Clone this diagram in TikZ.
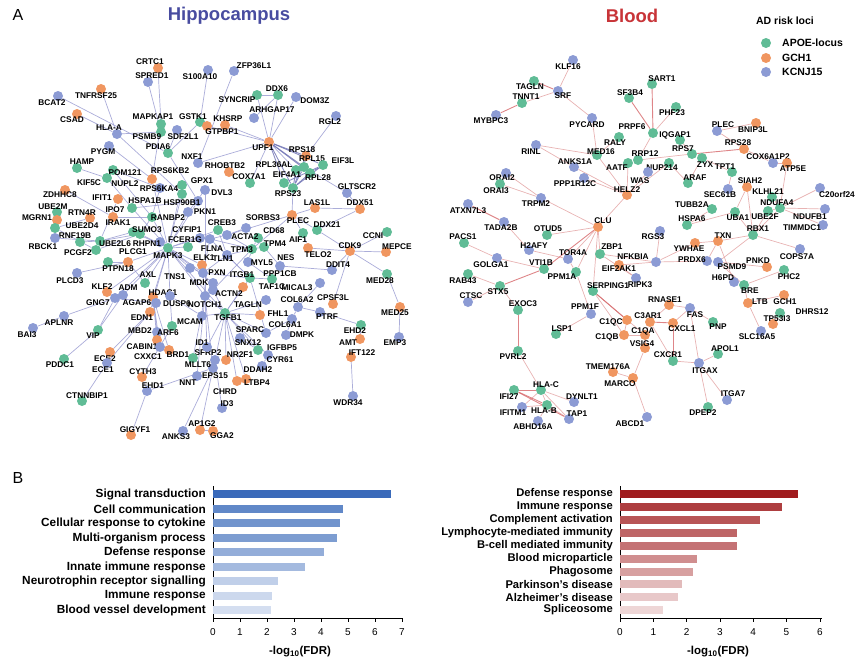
\documentclass[tikz,border=0pt]{standalone}
\usepackage{fontspec}
\setmainfont{Liberation Sans}
\usetikzlibrary{backgrounds}

\definecolor{apoe}{RGB}{96,188,150}
\definecolor{gch}{RGB}{240,150,96}
\definecolor{kcnj}{RGB}{140,155,212}
\definecolor{hipcol}{RGB}{72,76,160}
\definecolor{bldcol}{RGB}{200,52,56}
\definecolor{hedgecol}{RGB}{150,152,208}
\definecolor{bedgecol}{RGB}{226,160,160}
\definecolor{barblue}{RGB}{58,106,186}
\definecolor{barred}{RGB}{160,28,30}

\tikzset{gdot/.style={circle,fill=#1,inner sep=0pt,minimum size=10pt},
  glab/.style={font=\fontsize{8.3}{9}\selectfont\bfseries,inner sep=0pt},
  hedge/.style={draw=hedgecol,line width=0.7pt,opacity=0.8},
  hedgedk/.style={draw=hipcol!80,line width=0.9pt,opacity=0.8},
  bedge/.style={draw=bedgecol,line width=0.7pt,opacity=0.8},
  bedgedk/.style={draw=bldcol!75,line width=0.9pt,opacity=0.8},
  barlab/.style={font=\fontsize{11.8}{12}\selectfont\bfseries,anchor=east,inner sep=0pt},
  ticklab/.style={font=\fontsize{10}{11}\selectfont,inner sep=0pt},
}
% dot and its gene label
\newcommand{\gn}[5]{\node[gdot=#3] (#1#2) at (#4) {};\node[glab] (#1#2l) at (#5) {#2};}

\begin{document}
\begin{tikzpicture}[x=1pt,y=-1pt]
\useasboundingbox (0,0) rectangle (860,664);

% panel titles
\node[font=\fontsize{16}{18}\selectfont] (pa) at (18,15) {A};
\node[font=\fontsize{16}{18}\selectfont] (pb) at (18,478) {B};
\node[font=\fontsize{18.5}{20}\selectfont\bfseries,text=hipcol] (thip) at (229,16) {Hippocampus};
\node[font=\fontsize{18.5}{20}\selectfont\bfseries,text=bldcol] (tbld) at (632,16) {Blood};

% legend
\node[font=\fontsize{10.5}{12}\selectfont\bfseries] (leg) at (785,21) {AD risk loci};
\node[gdot=apoe] (lg1) at (766,43) {};
\node[gdot=gch] (lg2) at (766,58) {};
\node[gdot=kcnj] (lg3) at (766,72) {};
\node[font=\fontsize{10.5}{12}\selectfont\bfseries,anchor=west,inner sep=0pt] (lt1) at (782,43) {APOE-locus};
\node[font=\fontsize{10.5}{12}\selectfont\bfseries,anchor=west,inner sep=0pt] (lt2) at (782,58) {GCH1};
\node[font=\fontsize{10.5}{12}\selectfont\bfseries,anchor=west,inner sep=0pt] (lt3) at (782,72) {KCNJ15};

% ---- hippocampus network
\gn{h}{CRTC1}{gch}{158,68}{150,62}
\gn{h}{SPRED1}{kcnj}{148,82}{152,76}
\gn{h}{S100A10}{kcnj}{208,70}{200,77}
\gn{h}{ZFP36L1}{kcnj}{234,71}{254,66}
\gn{h}{DDX6}{apoe}{278,95}{277,89}
\gn{h}{SYNCRIP}{apoe}{257,95}{237,100}
\gn{h}{DOM3Z}{kcnj}{296,97}{315,101}
\gn{h}{ARHGAP17}{kcnj}{254,118}{272,110}
\gn{h}{RGL2}{kcnj}{336,116}{330,122}
\gn{h}{BCAT2}{kcnj}{58,96}{52,103}
\gn{h}{TNFRSF25}{gch}{101,89}{96,96}
\gn{h}{CSAD}{gch}{77,114}{72,120}
\gn{h}{HLA-A}{kcnj}{117,134}{109,128}
\gn{h}{PYGM}{kcnj}{109,146}{103,152}
\gn{h}{MAPKAP1}{apoe}{161,124}{153,117}
\gn{h}{GSTK1}{apoe}{200,122}{193,117}
\gn{h}{KHSRP}{gch}{225,125}{228,119}
\gn{h}{GTPBP1}{gch}{207,126}{222,132}
\gn{h}{PSMB9}{apoe}{161,132}{147,137}
\gn{h}{SDF2L1}{kcnj}{177,130}{183,137}
\gn{h}{PDIA6}{apoe}{168,153}{158,147}
\gn{h}{NXF1}{kcnj}{198,163}{192,157}
\gn{h}{UPF1}{gch}{269,142}{263,148}
\gn{h}{RPS18}{gch}{306,156}{302,150}
\gn{h}{RPL15}{apoe}{304,167}{312,159}
\gn{h}{EIF3L}{apoe}{323,165}{343,161}
\gn{h}{RHOBTB2}{gch}{229,172}{225,166}
\gn{h}{RPL36AL}{apoe}{296,170}{274,165}
\gn{h}{COX7A1}{apoe}{250,183}{249,177}
\gn{h}{EIF4A1}{apoe}{284,183}{287,175}
\gn{h}{RPL28}{apoe}{310,173}{318,178}
\gn{h}{RPS23}{apoe}{293,188}{288,194}
\gn{h}{GLTSCR2}{kcnj}{347,193}{357,187}
\gn{h}{LAS1L}{gch}{315,208}{317,203}
\gn{h}{DDX51}{gch}{360,209}{360,203}
\gn{h}{PLEC}{gch}{292,215}{298,221}
\gn{h}{DDX21}{apoe}{317,230}{327,225}
\gn{h}{AIF1}{apoe}{303,233}{298,240}
\gn{h}{SORBS3}{kcnj}{246,228}{263,218}
\gn{h}{CD68}{apoe}{258,238}{274,231}
\gn{h}{TPM4}{apoe}{264,247}{275,244}
\gn{h}{TPM3}{apoe}{252,249}{242,250}
\gn{h}{ACTA2}{kcnj}{227,235}{245,237}
\gn{h}{CREB3}{apoe}{218,230}{222,223}
\gn{h}{DVL3}{kcnj}{205,190}{222,193}
\gn{h}{GPX1}{apoe}{182,185}{202,181}
\gn{h}{RPS6KB2}{gch}{152,179}{170,171}
\gn{h}{POM121}{apoe}{113,170}{125,173}
\gn{h}{NUPL2}{kcnj}{160,188}{125,184}
\gn{h}{KIF5C}{apoe}{107,178}{89,183}
\gn{h}{HAMP}{apoe}{77,168}{82,162}
\gn{h}{ZDHHC8}{gch}{65,190}{60,195}
\gn{h}{IFIT1}{gch}{118,199}{102,198}
\gn{h}{RPS6KA4}{apoe}{182,194}{159,189}
\gn{h}{HSPA1B}{apoe}{132,208}{145,201}
\gn{h}{HSP90B1}{kcnj}{198,201}{182,203}
\gn{h}{UBE2M}{apoe}{57,212}{53,207}
\gn{h}{MGRN1}{gch}{57,220}{37,218}
\gn{h}{RTN4R}{gch}{90,218}{82,213}
\gn{h}{IPO7}{gch}{113,217}{115,210}
\gn{h}{UBE2D4}{apoe}{55,228}{82,226}
\gn{h}{IRAK1}{apoe}{133,232}{118,223}
\gn{h}{RANBP2}{apoe}{152,217}{168,218}
\gn{h}{PKN1}{kcnj}{188,212}{205,212}
\gn{h}{RNF19B}{apoe}{80,242}{75,236}
\gn{h}{SUMO3}{apoe}{140,234}{147,230}
\gn{h}{CYFIP1}{kcnj}{200,238}{187,230}
\gn{h}{RBCK1}{kcnj}{55,238}{43,247}
\gn{h}{UBE2L6}{apoe}{100,241}{115,244}
\gn{h}{RHPN1}{kcnj}{160,242}{147,244}
\gn{h}{FCER1G}{apoe}{188,247}{185,240}
\gn{h}{FLNA}{kcnj}{210,239}{212,249}
\gn{h}{PCGF2}{apoe}{96,250}{78,253}
\gn{h}{PLCG1}{gch}{128,262}{133,252}
\gn{h}{MAPK3}{apoe}{168,248}{168,256}
\gn{h}{ELK1}{gch}{202,265}{204,258}
\gn{h}{TNS1}{kcnj}{190,268}{175,277}
\gn{h}{PTPN18}{apoe}{108,262}{118,269}
\gn{h}{AXL}{apoe}{145,283}{148,275}
\gn{h}{PLCD3}{kcnj}{77,273}{70,281}
\gn{h}{MDK}{kcnj}{213,283}{199,283}
\gn{h}{KLF2}{gch}{107,292}{102,287}
\gn{h}{ADM}{kcnj}{123,295}{128,288}
\gn{h}{HDAC1}{gch}{153,297}{163,293}
\gn{h}{GNG7}{kcnj}{115,298}{98,303}
\gn{h}{AGAP6}{kcnj}{156,303}{137,303}
\gn{h}{DUSP6}{kcnj}{170,296}{177,304}
\gn{h}{NOTCH1}{kcnj}{205,296}{205,305}
\gn{h}{PXN}{kcnj}{203,273}{217,273}
\gn{h}{TLN1}{kcnj}{227,255}{223,259}
\gn{h}{ITGB1}{apoe}{250,278}{242,275}
\gn{h}{MYL5}{kcnj}{248,262}{262,263}
\gn{h}{NES}{kcnj}{280,266}{286,258}
\gn{h}{PPP1CB}{apoe}{272,279}{280,274}
\gn{h}{TAF1C}{gch}{243,287}{272,287}
\gn{h}{MICAL3}{kcnj}{320,283}{297,288}
\gn{h}{ACTN2}{kcnj}{213,290}{229,294}
\gn{h}{COL6A2}{kcnj}{298,307}{297,300}
\gn{h}{CPSF3L}{gch}{333,304}{333,298}
\gn{h}{TAGLN}{kcnj}{266,300}{248,305}
\gn{h}{TELO2}{gch}{308,248}{318,255}
\gn{h}{CCNI}{apoe}{387,232}{373,236}
\gn{h}{CDK9}{gch}{350,251}{350,246}
\gn{h}{MEPCE}{gch}{386,252}{397,247}
\gn{h}{DDIT4}{kcnj}{332,270}{338,265}
\gn{h}{MED28}{apoe}{387,274}{380,281}
\gn{h}{TGFB1}{apoe}{225,313}{228,318}
\gn{h}{FHL1}{gch}{260,315}{278,314}
\gn{h}{SPARC}{kcnj}{266,333}{250,330}
\gn{h}{COL6A1}{kcnj}{292,319}{285,325}
\gn{h}{DMPK}{kcnj}{286,335}{302,335}
\gn{h}{PTRF}{kcnj}{320,312}{327,317}
\gn{h}{SNX12}{kcnj}{240,338}{248,343}
\gn{h}{IGFBP5}{apoe}{258,350}{282,348}
\gn{h}{NR2F1}{gch}{226,360}{240,355}
\gn{h}{CYR61}{kcnj}{268,355}{280,360}
\gn{h}{DDAH2}{kcnj}{262,366}{258,370}
\gn{h}{LTBP4}{gch}{246,379}{257,383}
\gn{h}{CHRD}{gch}{237,381}{225,392}
\gn{h}{ID3}{kcnj}{222,408}{227,404}
\gn{h}{EPS15}{kcnj}{213,368}{215,376}
\gn{h}{SFRP2}{kcnj}{215,360}{208,353}
\gn{h}{ID1}{kcnj}{207,347}{202,343}
\gn{h}{MCAM}{kcnj}{202,316}{190,322}
\gn{h}{EDN1}{gch}{150,312}{142,318}
\gn{h}{MBD2}{kcnj}{157,332}{140,331}
\gn{h}{ARF6}{apoe}{172,326}{168,333}
\gn{h}{CABIN1}{gch}{157,340}{142,347}
\gn{h}{CXXC1}{kcnj}{160,347}{148,357}
\gn{h}{BRD1}{gch}{169,350}{178,355}
\gn{h}{MLLT6}{apoe}{193,358}{198,365}
\gn{h}{CYTH3}{gch}{142,377}{143,372}
\gn{h}{NNT}{kcnj}{197,376}{188,383}
\gn{h}{EHD1}{kcnj}{147,391}{153,386}
\gn{h}{APLNR}{kcnj}{64,316}{59,323}
\gn{h}{BAI3}{kcnj}{33,328}{27,335}
\gn{h}{VIP}{apoe}{98,330}{93,336}
\gn{h}{PDDC1}{apoe}{64,359}{60,365}
\gn{h}{ECE2}{gch}{110,352}{105,359}
\gn{h}{ECE1}{kcnj}{107,363}{103,370}
\gn{h}{CTNNBIP1}{apoe}{82,401}{87,396}
\gn{h}{GIGYF1}{gch}{131,435}{135,430}
\gn{h}{ANKS3}{kcnj}{183,431}{176,437}
\gn{h}{AP1G2}{gch}{200,430}{202,424}
\gn{h}{GGA2}{gch}{213,431}{222,436}
\gn{h}{WDR34}{kcnj}{353,396}{348,403}
\gn{h}{EHD2}{apoe}{361,325}{355,331}
\gn{h}{AMT}{gch}{360,339}{348,343}
\gn{h}{IFT122}{gch}{351,357}{362,353}
\gn{h}{MED25}{gch}{400,307}{395,313}
\gn{h}{EMP3}{kcnj}{399,337}{395,343}

% ---- blood network
\gn{b}{KLF16}{kcnj}{573,60}{568,67}
\gn{b}{TAGLN}{apoe}{534,81}{530,87}
\gn{b}{TNNT1}{apoe}{522,103}{526,97}
\gn{b}{SRF}{kcnj}{558,91}{563,96}
\gn{b}{MYBPC3}{kcnj}{496,115}{491,121}
\gn{b}{PYCARD}{kcnj}{592,118}{587,125}
\gn{b}{RINL}{kcnj}{536,145}{531,152}
\gn{b}{SART1}{apoe}{652,84}{662,79}
\gn{b}{SF3B4}{apoe}{629,98}{630,93}
\gn{b}{PHF23}{apoe}{676,107}{672,113}
\gn{b}{PRPF6}{apoe}{653,133}{632,127}
\gn{b}{IQGAP1}{apoe}{680,140}{675,135}
\gn{b}{PLEC}{kcnj}{717,131}{723,125}
\gn{b}{BNIP3L}{gch}{756,123}{753,130}
\gn{b}{RPS28}{gch}{744,149}{738,143}
\gn{b}{RPS7}{apoe}{692,154}{683,149}
\gn{b}{RALY}{apoe}{619,137}{615,143}
\gn{b}{MED16}{apoe}{597,155}{601,152}
\gn{b}{RRP12}{apoe}{638,160}{645,154}
\gn{b}{COX6A1P2}{kcnj}{773,163}{768,157}
\gn{b}{ATP5E}{gch}{787,163}{793,169}
\gn{b}{NUP214}{apoe}{669,163}{662,168}
\gn{b}{ZYX}{apoe}{702,158}{705,165}
\gn{b}{TPT1}{apoe}{732,172}{725,167}
\gn{b}{ARAF}{apoe}{688,183}{695,178}
\gn{b}{ANKS1A}{kcnj}{574,167}{575,162}
\gn{b}{AATF}{apoe}{628,163}{617,168}
\gn{b}{WAS}{kcnj}{648,172}{640,181}
\gn{b}{PPP1R12C}{kcnj}{584,178}{575,184}
\gn{b}{HELZ2}{gch}{627,195}{627,190}
\gn{b}{SIAH2}{gch}{747,187}{750,181}
\gn{b}{KLHL21}{apoe}{772,197}{768,192}
\gn{b}{C20orf24}{kcnj}{820,188}{837,195}
\gn{b}{SEC61B}{kcnj}{728,189}{720,195}
\gn{b}{TUBB2A}{apoe}{712,209}{692,205}
\gn{b}{NDUFA4}{apoe}{780,208}{777,203}
\gn{b}{NDUFB1}{kcnj}{825,209}{810,217}
\gn{b}{UBA1}{apoe}{735,212}{738,218}
\gn{b}{UBE2F}{apoe}{768,211}{765,217}
\gn{b}{HSPA6}{apoe}{687,225}{692,219}
\gn{b}{TIMMDC1}{kcnj}{823,225}{802,228}
\gn{b}{RBX1}{apoe}{753,235}{758,229}
\gn{b}{RGS3}{kcnj}{660,231}{653,237}
\gn{b}{TXN}{gch}{718,241}{723,236}
\gn{b}{YWHAE}{gch}{695,243}{689,249}
\gn{b}{COPS7A}{kcnj}{800,249}{797,257}
\gn{b}{NFKBIA}{kcnj}{656,262}{633,257}
\gn{b}{PRDX6}{kcnj}{707,261}{692,260}
\gn{b}{PSMD9}{kcnj}{718,262}{732,267}
\gn{b}{PNKD}{gch}{767,267}{758,261}
\gn{b}{PHC2}{apoe}{784,270}{789,277}
\gn{b}{H6PD}{kcnj}{734,282}{723,278}
\gn{b}{BRE}{apoe}{744,285}{750,291}
\gn{b}{RIPK3}{kcnj}{636,278}{640,285}
\gn{b}{RNASE1}{gch}{669,305}{665,300}
\gn{b}{LTB}{gch}{748,303}{760,302}
\gn{b}{GCH1}{gch}{784,295}{785,302}
\gn{b}{DHRS12}{apoe}{780,313}{812,312}
\gn{b}{TP53I3}{gch}{773,324}{777,319}
\gn{b}{FAS}{kcnj}{690,308}{695,315}
\gn{b}{C3AR1}{gch}{650,322}{648,316}
\gn{b}{CXCL1}{gch}{673,323}{682,329}
\gn{b}{PNP}{apoe}{713,322}{718,327}
\gn{b}{SLC16A5}{kcnj}{761,331}{757,337}
\gn{b}{APOL1}{apoe}{718,354}{725,349}
\gn{b}{CXCR1}{apoe}{673,361}{668,355}
\gn{b}{ITGAX}{kcnj}{699,363}{705,371}
\gn{b}{ITGA7}{kcnj}{727,400}{733,394}
\gn{b}{DPEP2}{apoe}{708,407}{703,413}
\gn{b}{ABCD1}{kcnj}{647,417}{630,424}
\gn{b}{VSIG4}{gch}{645,348}{642,344}
\gn{b}{MARCO}{gch}{633,378}{620,384}
\gn{b}{C1QC}{gch}{627,320}{611,322}
\gn{b}{C1QB}{gch}{624,335}{607,337}
\gn{b}{C1QA}{gch}{645,335}{643,331}
\gn{b}{TMEM176A}{gch}{613,372}{608,367}
\gn{b}{ORAI2}{kcnj}{506,173}{502,178}
\gn{b}{ORAI3}{apoe}{500,184}{496,191}
\gn{b}{TRPM2}{kcnj}{541,198}{536,204}
\gn{b}{ATXN7L3}{kcnj}{468,204}{468,211}
\gn{b}{CLU}{gch}{598,227}{603,221}
\gn{b}{TADA2B}{kcnj}{504,222}{501,228}
\gn{b}{OTUD5}{apoe}{547,235}{548,229}
\gn{b}{PACS1}{apoe}{464,243}{463,237}
\gn{b}{H2AFY}{kcnj}{529,250}{534,246}
\gn{b}{TOR4A}{kcnj}{568,259}{573,253}
\gn{b}{ZBP1}{apoe}{600,254}{612,247}
\gn{b}{EIF2AK1}{gch}{619,265}{619,269}
\gn{b}{GOLGA1}{kcnj}{497,258}{491,265}
\gn{b}{VTI1B}{apoe}{544,269}{541,263}
\gn{b}{RAB43}{apoe}{468,274}{463,281}
\gn{b}{PPM1A}{apoe}{576,272}{562,277}
\gn{b}{SERPING1}{apoe}{593,291}{608,286}
\gn{b}{STX5}{apoe}{500,286}{498,292}
\gn{b}{CTSC}{kcnj}{468,302}{471,296}
\gn{b}{EXOC3}{apoe}{518,310}{523,304}
\gn{b}{PPM1F}{kcnj}{591,314}{585,307}
\gn{b}{LSP1}{apoe}{556,334}{562,329}
\gn{b}{PVRL2}{apoe}{518,351}{513,357}
\gn{b}{HLA-C}{apoe}{541,390}{546,385}
\gn{b}{IFI27}{apoe}{514,390}{509,397}
\gn{b}{DYNLT1}{kcnj}{574,402}{582,397}
\gn{b}{IFITM1}{kcnj}{522,407}{513,413}
\gn{b}{HLA-B}{apoe}{547,405}{544,411}
\gn{b}{TAP1}{kcnj}{569,419}{577,414}
\gn{b}{ABHD16A}{kcnj}{538,421}{533,427}

% ---- connectors behind the dots
\begin{scope}[on background layer]
\foreach \a/\b in {CRTC1/MAPKAP1,SPRED1/PSMB9,S100A10/GSTK1,ZFP36L1/NXF1,BCAT2/PDIA6,
  TNFRSF25/HLA-A,CSAD/HLA-A,HLA-A/PSMB9,HLA-A/RPS6KA4,PYGM/RPS6KB2,MAPKAP1/RPS6KB2,
  GSTK1/PDIA6,SDF2L1/PDIA6,PDIA6/HSP90B1,KHSRP/UPF1,GTPBP1/UPF1,NXF1/UPF1,
  DDX6/UPF1,DOM3Z/UPF1,SYNCRIP/UPF1,ARHGAP17/DDX6,SYNCRIP/DDX6,RGL2/RPS18,
  UPF1/RPL36AL,UPF1/COX7A1,RPS23/PLEC,RPL15/GLTSCR2,PLEC/LAS1L,PLEC/AIF1,PLEC/DDX21,
  PLEC/ACTA2,PLEC/TPM3,LAS1L/DDX51,GLTSCR2/DDX51,DDX21/CDK9,DDX21/DDX51,AIF1/TELO2,
  CDK9/MEPCE,CDK9/CCNI,CDK9/MED28,CDK9/CPSF3L,CDK9/DDIT4,CDK9/TELO2,MED28/MED25,
  MED25/EMP3,NES/DDIT4,
  MAPK3/ELK1,MAPK3/RPS6KA4,MAPK3/RPS6KB2,MAPK3/FCER1G,MAPK3/PLCG1,MAPK3/AXL,
  MAPK3/HDAC1,MAPK3/DUSP6,MAPK3/IRAK1,MAPK3/HSPA1B,MAPK3/CREB3,MAPK3/TNS1,MAPK3/PKN1,
  MAPK3/RANBP2,MAPK3/SUMO3,MAPK3/RHPN1,MAPK3/MDK,MAPK3/EDN1,MAPK3/PXN,MAPK3/CYFIP1,
  MAPK3/TGFB1,MAPK3/NOTCH1,MAPK3/ADM,MAPK3/KLF2,MAPK3/GNG7,MAPK3/HSP90B1,MAPK3/GPX1,
  HSPA1B/HSP90B1,DVL3/PKN1,DVL3/NOTCH1,IPO7/RANBP2,NUPL2/RANBP2,POM121/RANBP2,
  POM121/NUPL2,RANBP2/SUMO3,IRAK1/UBE2L6,IFIT1/UBE2L6,RBCK1/UBE2L6,RNF19B/UBE2L6,
  UBE2L6/SUMO3,MGRN1/UBE2D4,RTN4R/UBE2D4,UBE2M/RBCK1,UBE2D4/PCGF2,PCGF2/SUMO3,
  ZDHHC8/IPO7,HAMP/KIF5C,KIF5C/HSPA1B,PLCD3/PLCG1,PTPN18/PLCG1,AXL/PLCG1,
  PXN/TLN1,PXN/ITGB1,PXN/FLNA,PXN/ACTN2,TLN1/ITGB1,FLNA/ACTA2,TPM3/TPM4,
  TPM3/ACTA2,TPM3/MYL5,TPM3/CD68,TPM3/FLNA,TPM3/TLN1,TPM3/ACTN2,TPM4/NES,
  ITGB1/FLNA,ITGB1/TGFB1,ITGB1/SPARC,ITGB1/PPP1CB,MYL5/PPP1CB,SORBS3/ACTA2,CREB3/TLN1,
  TAF1C/TGFB1,TGFB1/NOTCH1,TGFB1/SPARC,TGFB1/LTBP4,TGFB1/ID1,TGFB1/SFRP2,TGFB1/NR2F1,
  TGFB1/IGFBP5,TGFB1/CYR61,TGFB1/CHRD,TGFB1/FHL1,TGFB1/MCAM,TGFB1/TAGLN,TGFB1/ACTN2,
  COL6A1/COL6A2,COL6A2/PTRF,PTRF/EHD2,EHD2/AMT,IFT122/WDR34,DMPK/COL6A1,SPARC/COL6A1,
  MICAL3/COL6A2,SNX12/IGFBP5,DDAH2/CYR61,LTBP4/CHRD,SFRP2/ID3,NOTCH1/EPS15,NOTCH1/ID1,
  EPS15/AP1G2,EPS15/ANKS3,AP1G2/GGA2,EHD1/GIGYF1,EHD1/CYTH3,EHD1/EPS15,CABIN1/HDAC1,
  MBD2/HDAC1,CXXC1/HDAC1,BRD1/HDAC1,ARF6/CYTH3,ARF6/DUSP6,MLLT6/NOTCH1,NNT/NOTCH1,
  ECE1/EDN1,ECE2/EDN1,VIP/ADM,VIP/GNG7,APLNR/GNG7,BAI3/APLNR,PDDC1/VIP,
  CTNNBIP1/ECE1,GNG7/AGAP6,DUSP6/MCAM,MDK/NOTCH1,ELK1/NOTCH1,TNS1/PXN}
  \draw[hedge] (h\a) -- (h\b);
\foreach \a/\b in {UPF1/RPS18,UPF1/RPL15,UPF1/RPL28,UPF1/RPS23,UPF1/EIF4A1,UPF1/EIF3L,
  RPS23/RPL15,RPS23/RPL28,RPS23/EIF3L,RPS23/RPL36AL,RPS23/EIF4A1,RPS23/RPS18,
  EIF4A1/EIF3L,RPL15/RPS18,RPL28/EIF3L,RPL36AL/RPL15}
  \draw[hedgedk] (h\a) -- (h\b);

\foreach \a/\b in {SRF/KLF16,SRF/PYCARD,SRF/TNNT1,PYCARD/MED16,PRPF6/RRP12,PHF23/PRPF6,
  IQGAP1/RPS7,PLEC/RPS28,PLEC/BNIP3L,RPS28/COX6A1P2,COX6A1P2/ATP5E,ATP5E/NDUFA4,
  NDUFA4/NDUFB1,NDUFA4/TIMMDC1,NDUFA4/C20orf24,NDUFA4/KLHL21,NDUFA4/UBE2F,NDUFA4/RBX1,
  SIAH2/RBX1,SIAH2/UBA1,UBE2F/RBX1,UBA1/RBX1,RBX1/COPS7A,RBX1/TXN,RBX1/PSMD9,
  TXN/PRDX6,TXN/YWHAE,TXN/H6PD,PSMD9/BRE,BRE/LTB,BRE/PHC2,PNKD/PSMD9,ZYX/TPT1,
  ZYX/ARAF,ARAF/NUP214,TUBB2A/HSPA6,HSPA6/UBA1,SEC61B/TPT1,RPS7/ZYX,RRP12/RPS7,
  NUP214/HELZ2,HELZ2/CLU,HELZ2/MED16,HELZ2/AATF,HELZ2/PPP1R12C,HELZ2/WAS,RALY/MED16,
  MED16/RINL,RINL/ANKS1A,ANKS1A/HELZ2,CLU/TRPM2,CLU/OTUD5,CLU/TOR4A,CLU/SERPING1,
  CLU/ZBP1,CLU/PPM1A,ZBP1/NFKBIA,ZBP1/RIPK3,NFKBIA/EIF2AK1,NFKBIA/PRDX6,NFKBIA/RGS3,
  NFKBIA/YWHAE,RIPK3/EIF2AK1,SERPING1/C1QC,SERPING1/C1QB,SERPING1/C1QA,C1QC/C1QB,
  C1QB/C1QA,C1QA/C3AR1,C3AR1/CXCR1,C1QA/VSIG4,VSIG4/MARCO,TMEM176A/MARCO,MARCO/ABCD1,
  ITGAX/APOL1,ITGAX/DPEP2,ITGAX/ITGA7,ITGAX/FAS,ITGAX/CXCR1,FAS/RNASE1,FAS/CXCL1,
  PNP/FAS,SLC16A5/LTB,TP53I3/DHRS12,GCH1/LTB,ORAI2/TRPM2,ORAI3/TRPM2,TADA2B/H2AFY,
  H2AFY/TOR4A,PACS1/GOLGA1,GOLGA1/VTI1B,RAB43/STX5,CTSC/STX5,EXOC3/STX5,PPM1F/LSP1,
  PPM1A/PPM1F,PVRL2/HLA-C,HLA-C/HLA-B,HLA-C/DYNLT1,HLA-C/TAP1,HLA-C/IFITM1,
  HLA-B/TAP1,HLA-B/ABHD16A,IFITM1/HLA-B,TOR4A/PPM1A,RNASE1/C3AR1}
  \draw[bedge] (b\a) -- (b\b);
\foreach \a/\b in {TAGLN/SRF,TNNT1/MYBPC3,SF3B4/PRPF6,SART1/PRPF6,RPS7/RPS28,
  ATXN7L3/TADA2B,CLU/VTI1B,STX5/VTI1B,EXOC3/PVRL2,HLA-C/IFI27,IFI27/HLA-B,IFI27/TAP1,
  C3AR1/CXCL1,CXCL1/CXCR1,C1QC/SERPING1}
  \draw[bedgedk] (b\a) -- (b\b);
\end{scope}

% ---- panel B, hippocampus bars
\draw[line width=0.6pt] (213,486) -- (213,618) -- (403,618);
\foreach \k in {0,...,7} {
  \draw[line width=0.6pt] ({213+27*\k},618) -- ({213+27*\k},622);
  \node[ticklab] (htk\k) at ({213+27*\k},632) {\k};
}
\foreach \lab/\val/\yy/\sh [count=\i] in {Signal transduction/6.6/494/100,
  Cell communication/4.8/509/80,Cellular response to cytokine/4.7/523/72,
  Multi-organism process/4.6/538/66,Defense response/4.1/552/55,
  Innate immune response/3.4/567/46,Neurotrophin receptor signalling/2.4/581/32,
  Immune response/2.2/596/26,Blood vessel development/2.15/610/22} {
  \fill[barblue!\sh!white] (213,\yy-4) rectangle ({213+27*\val},\yy+4);
  \node[barlab] (hb\i) at (206,\yy) {\lab};
}
\node[font=\fontsize{11.5}{12}\selectfont\bfseries] (hax) at (300,652) {-log\textsubscript{10}(FDR)};

% ---- panel B, blood bars
\draw[line width=0.6pt] (620,486) -- (620,618) -- (822,618);
\foreach \k in {0,...,6} {
  \draw[line width=0.6pt] ({620+33.3*\k},618) -- ({620+33.3*\k},622);
  \node[ticklab] (btk\k) at ({620+33.3*\k},632) {\k};
}
\foreach \lab/\val/\yy/\sh [count=\i] in {Defense response/5.35/494/100,
  Immune response/4.85/507/85,Complement activation/4.2/520/75,
  Lymphocyte-mediated immunity/3.5/533/68,B-cell mediated immunity/3.5/546/62,
  Blood microparticle/2.3/559/50,Phagosome/2.2/572/42,
  Parkinson's disease/1.85/584/30,Alzheimer's disease/1.75/597/24,
  Spliceosome/1.3/610/18} {
  \fill[barred!\sh!white] (620,\yy-4) rectangle ({620+33.3*\val},\yy+4);
  \node[barlab,font=\fontsize{11.2}{12}\selectfont\bfseries] (bb\i) at (613,\yy) {\lab};
}
\node[font=\fontsize{11.5}{12}\selectfont\bfseries] (bax) at (718,652) {-log\textsubscript{10}(FDR)};
\end{tikzpicture}
\end{document}
